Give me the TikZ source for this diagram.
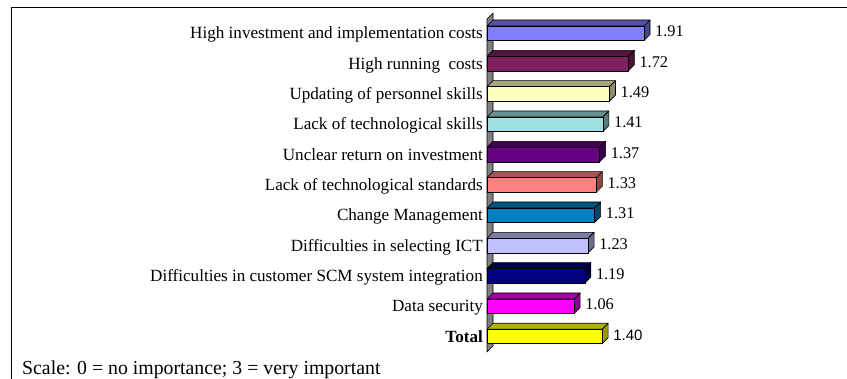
\documentclass[tikz,border=0pt]{standalone}
\usepackage{fontspec}
\setmainfont{Liberation Serif}
\newfontfamily\arialf{Liberation Sans}
\definecolor{c1}{RGB}{128,128,255}
\definecolor{c2}{RGB}{128,32,96}
\definecolor{c3}{RGB}{255,255,192}
\definecolor{c4}{RGB}{160,224,224}
\definecolor{c5}{RGB}{102,0,128}
\definecolor{c6}{RGB}{255,128,128}
\definecolor{c7}{RGB}{0,128,192}
\definecolor{c8}{RGB}{192,192,255}
\definecolor{c9}{RGB}{0,0,128}
\definecolor{c10}{RGB}{255,0,255}
\definecolor{c11}{RGB}{255,255,0}
\definecolor{wallgray}{RGB}{128,128,128}
\tikzset{
  frameline/.style={line width=1.5pt, black},
  barface/.style={draw=black, line width=0.6pt, line join=round},
  catlabel/.style={anchor=base east, inner sep=0pt, font=\fontsize{17.1}{19}\selectfont},
  vallabel/.style={anchor=base west, inner sep=0pt, font=\fontsize{16.3}{18}\selectfont},
  notelabel/.style={anchor=base west, inner sep=0pt, font=\fontsize{19.8}{22}\selectfont}
}
\begin{document}
\begin{tikzpicture}[x=1pt,y=-1pt]
\useasboundingbox (0,0) rectangle (847,379);
\fill[white] (0,0) rectangle (847,379);
% frame
\draw[frameline] (11.5,379) -- (11.5,7.5) -- (847,7.5);
% wall
\draw[barface, fill=wallgray] (487,19) -- (493,13) -- (493,346) -- (487,352) -- cycle;
% bars
\foreach \i/\v/\c/\lab [count=\n] in {
  0/1.91/c1/{High investment and implementation costs},
  1/1.72/c2/{High running\ \ costs},
  2/1.49/c3/{Updating of personnel skills\ },
  3/1.41/c4/{Lack of technological skills},
  4/1.37/c5/{Unclear return on investment},
  5/1.33/c6/{Lack of technological standards},
  6/1.31/c7/{Change Management},
  7/1.23/c8/{Difficulties in selecting ICT},
  8/1.19/c9/{Difficulties in customer SCM system integration},
  9/1.06/c10/{Data security}}
{
  \pgfmathsetmacro{\yt}{26+30.33*\i}
  \pgfmathsetmacro{\yb}{\yt+14.5}
  \pgfmathsetmacro{\xe}{487+82.2*\v}
  \draw[barface, fill=\c!65!black] (487,\yt) -- (493,\yt-6) -- (\xe+6,\yt-6) -- (\xe,\yt) -- cycle;
  \draw[barface, fill=\c!55!black] (\xe,\yt) -- (\xe+6,\yt-6) -- (\xe+6,\yb-6) -- (\xe,\yb) -- cycle;
  \draw[barface, fill=\c] (487,\yt) rectangle (\xe,\yb);
  \node[catlabel] (cat\n) at (483,\yb-1.5) {\lab};
  \node[vallabel] (val\n) at (\xe+11,\yb-3.5) {\v};
}
% total bar
\pgfmathsetmacro{\yt}{26+30.33*10}
\pgfmathsetmacro{\yb}{\yt+14.5}
\pgfmathsetmacro{\xe}{487+82.2*1.40}
\draw[barface, fill=c11!70!black] (487,\yt) -- (493,\yt-6) -- (\xe+6,\yt-6) -- (\xe,\yt) -- cycle;
\draw[barface, fill=c11!60!black] (\xe,\yt) -- (\xe+6,\yt-6) -- (\xe+6,\yb-6) -- (\xe,\yb) -- cycle;
\draw[barface, fill=c11] (487,\yt) rectangle (\xe,\yb);
\node[catlabel] (cattotal) at (483,\yb-1.5) {\textbf{Total}};
\node[vallabel, font=\arialf\fontsize{15}{18}\selectfont] (valtotal) at (\xe+11,\yb-3.5) {1.40};
% note
\node[notelabel] (note) at (22,375) {Scale: 0 = no importance; 3 = very important};
\end{tikzpicture}
\end{document}
